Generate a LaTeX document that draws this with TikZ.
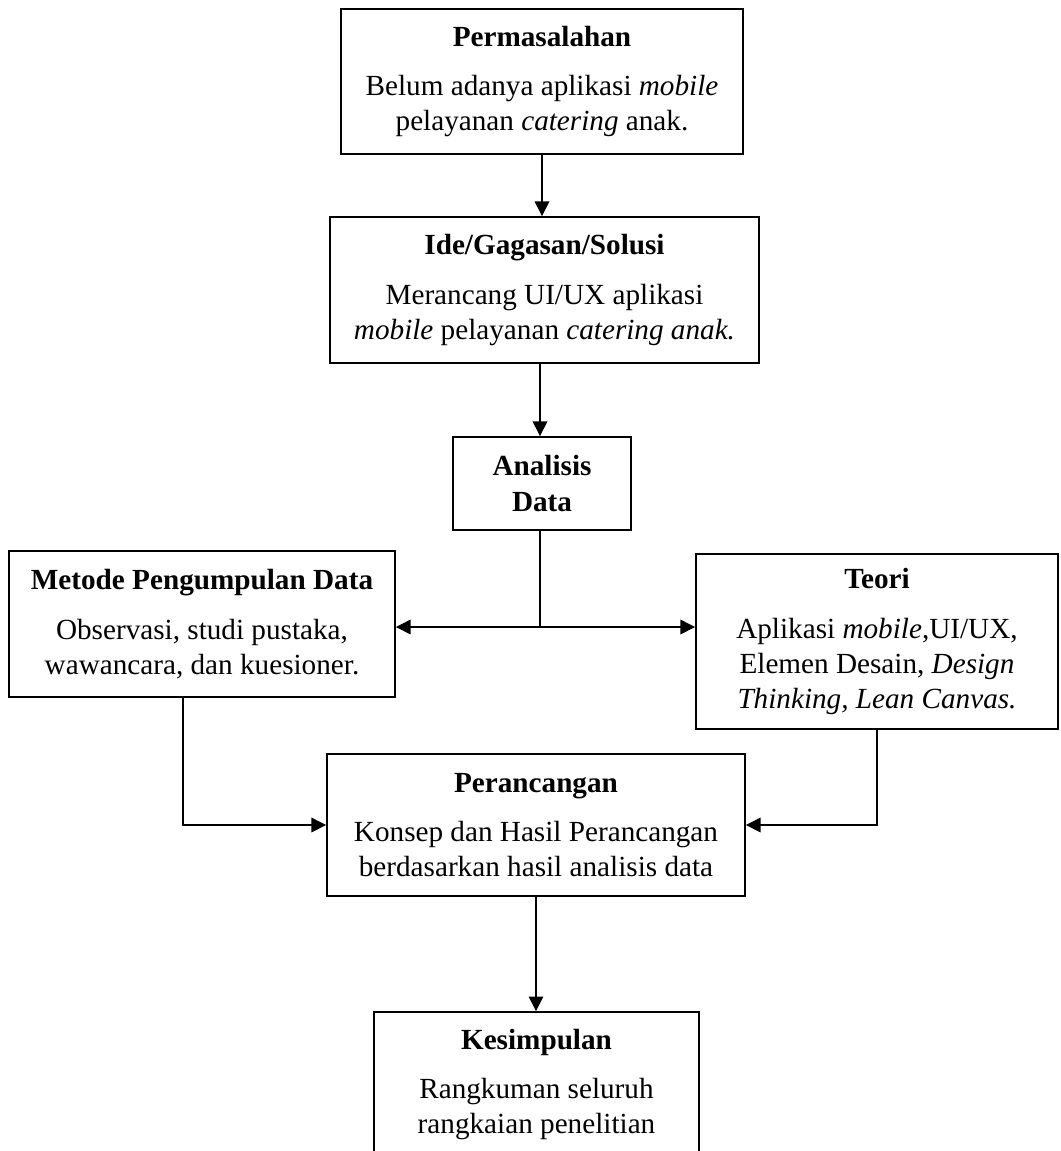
\documentclass[tikz,border=0pt]{standalone}
\usepackage{fontspec}
\setmainfont{Liberation Serif}
\usetikzlibrary{arrows.meta}
\newcommand{\pxu}{0.411pt}
\tikzset{
  box/.style={draw, line width=0.75pt, align=center, inner sep=2pt, font=\fontsize{12}{14.4}\selectfont},
  arr/.style={-{Triangle[length=6pt, width=6pt]}, line width=0.45pt},
}
\begin{document}
\begin{tikzpicture}[x=\pxu, y=-\pxu]
    \useasboundingbox (0,0) rectangle (1060,1151);
    \clip (0,0) rectangle (1060,1151);
    \node [box, minimum width=402*\pxu, minimum height=145*\pxu] (masalah) at (542,81.5) {\textbf{Permasalahan}\\[6pt] Belum adanya aplikasi \textit{mobile}\\ pelayanan \textit{catering} anak.};
    \node [box, minimum width=429*\pxu, minimum height=146*\pxu] (ide) at (544.5,290) {\textbf{Ide/Gagasan/Solusi}\\[6pt] Merancang UI/UX aplikasi\\ \textit{mobile} pelayanan \textit{catering anak.}};
    \node [box, minimum width=178*\pxu, minimum height=93*\pxu] (analisis) at (542,483.5) {\textbf{Analisis}\\ \textbf{Data}};
    \node [box, minimum width=386*\pxu, minimum height=146*\pxu] (metode) at (202,624) {\textbf{Metode Pengumpulan Data}\\[6pt] Observasi, studi pustaka,\\ wawancara, dan kuesioner.};
    \node [box, minimum width=362*\pxu, minimum height=175*\pxu] (teori) at (877,641.5) {\textbf{Teori}\\[6pt] Aplikasi \textit{mobile},UI/UX,\\ Elemen Desain, \textit{Design}\\ \textit{Thinking, Lean Canvas.}};
    \node [box, minimum width=418*\pxu, minimum height=142*\pxu] (rancang) at (536,825) {\textbf{Perancangan}\\[6pt] Konsep dan Hasil Perancangan\\ berdasarkan hasil analisis data};
    \node [box, minimum width=325*\pxu, minimum height=145*\pxu] (simpul) at (536.5,1084.5) {\textbf{Kesimpulan}\\[6pt] Rangkuman seluruh\\ rangkaian penelitian};
    \coordinate (cabang) at (540,627);
    \coordinate (kiri) at (183,0);
    \draw [arr] (masalah.south) -- (masalah.south |- ide.north);
    \draw [arr] (ide.south -| cabang) -- (analisis.north -| cabang);
    \draw [line width=0.45pt] (analisis.south -| cabang) -- (cabang);
    \draw [arr] (cabang) -- (cabang -| metode.east);
    \draw [arr] (cabang) -- (cabang -| teori.west);
    \draw [arr] (metode.south -| kiri) |- (rancang.west);
    \draw [arr] (teori.south) |- (rancang.east);
    \draw [arr] (rancang.south) -- (rancang.south |- simpul.north);
\end{tikzpicture}
\end{document}
